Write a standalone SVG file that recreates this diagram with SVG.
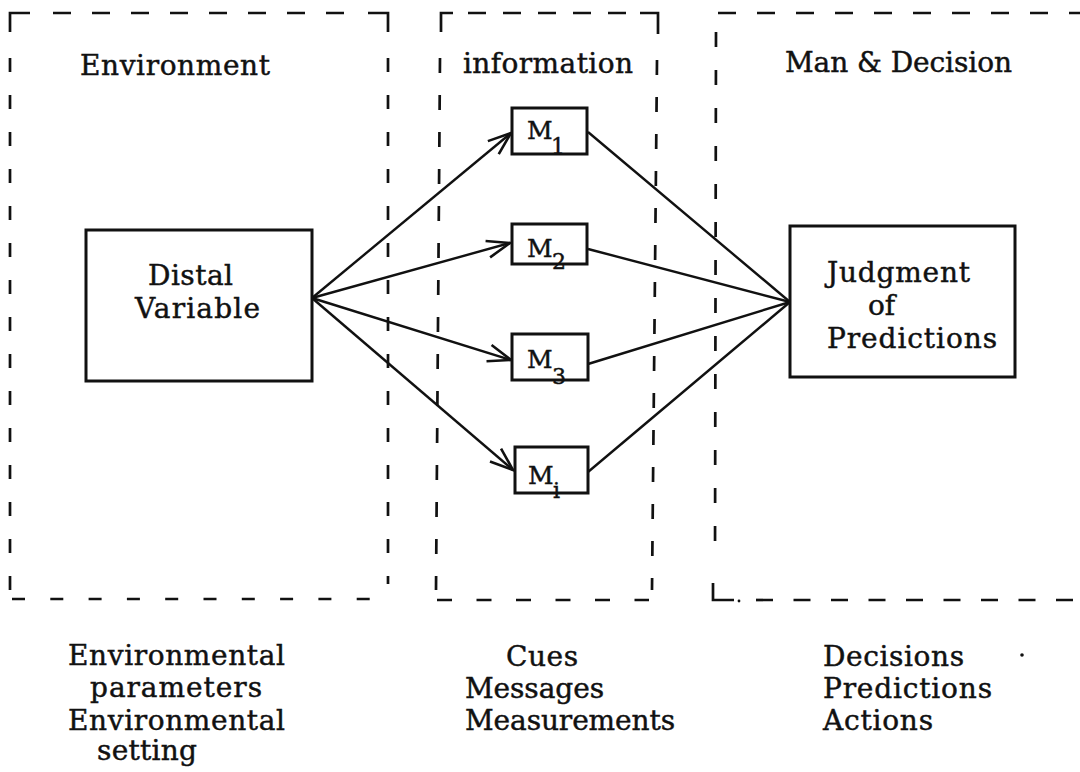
<svg xmlns="http://www.w3.org/2000/svg" width="1080" height="772" viewBox="0 0 1080 772">
  <style>
    .bg { fill: #ffffff; }
    .zone { fill: none; stroke: #111; stroke-width: 2.7; }
    .box { fill: #ffffff; stroke: #111; stroke-width: 3; }
    .link { fill: none; stroke: #111; stroke-width: 2.4; }
    .lbl { font-family: "DejaVu Serif", "Liberation Serif", serif; font-size: 28px; fill: #111; stroke: #111; stroke-width: 0.45; }
    .m { font-family: "DejaVu Serif", "Liberation Serif", serif; font-size: 25px; fill: #111; stroke: #111; stroke-width: 0.45; }
    .sub { font-family: "DejaVu Serif", "Liberation Serif", serif; font-size: 22px; fill: #111; stroke: #111; stroke-width: 0.45; }
  </style>
  <defs>
    <marker id="vee" markerUnits="userSpaceOnUse" viewBox="-24 -12 26 24" refX="0" refY="0" markerWidth="26" markerHeight="24" orient="auto" overflow="visible">
      <path d="M-23,-8.5 L0,0 L-23,8.5" fill="none" stroke="#111" stroke-width="2.6" stroke-linejoin="miter"/>
    </marker>
  </defs>

  <rect class="bg" x="0" y="0" width="1080" height="772"/>

  <!-- Dashed zone frames -->
  <g id="zone-environment">
    <path class="zone" d="M10,32 V13 H30"/>
    <line class="zone" x1="53" y1="13" x2="345" y2="13" stroke-dasharray="18 21"/>
    <path class="zone" d="M368,13 H388 V32"/>
    <line class="zone" x1="10" y1="58" x2="10" y2="591" stroke-dasharray="14 23"/>
    <line class="zone" x1="388" y1="58" x2="388" y2="584" stroke-dasharray="14 23"/>
    <line class="zone" x1="12" y1="599" x2="378" y2="599" stroke-dasharray="13 25.3"/>
    <text class="lbl" x="80" y="75" textLength="190" lengthAdjust="spacing">Environment</text>
  </g>

  <g id="zone-information">
    <path class="zone" d="M441,32 V13 H453"/>
    <line class="zone" x1="468" y1="13" x2="628" y2="13" stroke-dasharray="18 17"/>
    <path class="zone" d="M640,13 H658 V34"/>
    <line class="zone" x1="440" y1="58" x2="436" y2="590" stroke-dasharray="15 22"/>
    <line class="zone" x1="657" y1="60" x2="652" y2="590" stroke-dasharray="15 22"/>
    <line class="zone" x1="437" y1="600" x2="649" y2="600" stroke-dasharray="15 24.5"/>
    <text class="lbl" x="463" y="73" textLength="170" lengthAdjust="spacing">information</text>
  </g>

  <g id="zone-decision">
    <line class="zone" x1="718" y1="13" x2="1080" y2="13" stroke-dasharray="18 21"/>
    <line class="zone" x1="716" y1="32" x2="715" y2="562" stroke-dasharray="15 23"/>
    <path class="zone" d="M713,583 V600 H734"/>
    <circle cx="739" cy="601" r="1.4" fill="#111"/>
    <line class="zone" x1="756" y1="600" x2="1080" y2="600" stroke-dasharray="17 20.5"/>
    <text class="lbl" x="785" y="72" textLength="227" lengthAdjust="spacing">Man &amp; Decision</text>
  </g>

  <!-- Connectors -->
  <g id="connectors">
    <line class="link" x1="312" y1="298" x2="511" y2="133" marker-end="url(#vee)"/>
    <line class="link" x1="312" y1="298" x2="510" y2="243" marker-end="url(#vee)"/>
    <line class="link" x1="312" y1="298" x2="511" y2="360" marker-end="url(#vee)"/>
    <line class="link" x1="312" y1="298" x2="513" y2="470" marker-end="url(#vee)"/>
    <line class="link" x1="588" y1="132" x2="790" y2="302"/>
    <line class="link" x1="588" y1="249" x2="790" y2="302"/>
    <line class="link" x1="588" y1="364" x2="790" y2="302"/>
    <line class="link" x1="588" y1="472" x2="790" y2="302"/>
  </g>

  <!-- Nodes -->
  <g id="distal-variable">
    <rect class="box" x="86" y="230" width="226" height="151"/>
    <text class="lbl" x="148" y="285" textLength="85" lengthAdjust="spacing">Distal</text>
    <text class="lbl" x="135" y="318" textLength="125" lengthAdjust="spacing">Variable</text>
  </g>

  <g id="m1">
    <rect class="box" x="512" y="108" width="75" height="46"/>
    <text class="m" x="527" y="139">M</text>
    <text class="sub" x="551" y="154">1</text>
  </g>

  <g id="m2">
    <rect class="box" x="512" y="224" width="75" height="40"/>
    <text class="m" x="527" y="257">M</text>
    <text class="sub" x="552" y="269">2</text>
  </g>

  <g id="m3">
    <rect class="box" x="512" y="334" width="76" height="46"/>
    <text class="m" x="527" y="368">M</text>
    <text class="sub" x="552" y="384">3</text>
  </g>

  <g id="mi">
    <rect class="box" x="515" y="447" width="73" height="46"/>
    <text class="m" x="528" y="484">M</text>
    <text class="sub" x="553" y="498">i</text>
  </g>

  <g id="judgment">
    <rect class="box" x="790" y="226" width="225" height="151"/>
    <text class="lbl" x="827" y="282" textLength="143" lengthAdjust="spacing">Judgment</text>
    <text class="lbl" x="868" y="315" textLength="27" lengthAdjust="spacing">of</text>
    <text class="lbl" x="827" y="348" textLength="170" lengthAdjust="spacing">Predictions</text>
  </g>

  <!-- Captions under each zone -->
  <g id="caption-environment">
    <text class="lbl" x="68" y="665" textLength="217" lengthAdjust="spacing">Environmental</text>
    <text class="lbl" x="90" y="697" textLength="172" lengthAdjust="spacing">parameters</text>
    <text class="lbl" x="68" y="730" textLength="217" lengthAdjust="spacing">Environmental</text>
    <text class="lbl" x="97" y="760" textLength="100" lengthAdjust="spacing">setting</text>
  </g>

  <g id="caption-information">
    <text class="lbl" x="506" y="666" textLength="72" lengthAdjust="spacing">Cues</text>
    <text class="lbl" x="465" y="698" textLength="139" lengthAdjust="spacing">Messages</text>
    <text class="lbl" x="465" y="730" textLength="210" lengthAdjust="spacing">Measurements</text>
  </g>

  <g id="caption-decision">
    <text class="lbl" x="823" y="666" textLength="141" lengthAdjust="spacing">Decisions</text>
    <circle cx="1022" cy="655" r="1.8" fill="#111"/>
    <text class="lbl" x="823" y="698" textLength="169" lengthAdjust="spacing">Predictions</text>
    <text class="lbl" x="823" y="730" textLength="110" lengthAdjust="spacing">Actions</text>
  </g>
</svg>
